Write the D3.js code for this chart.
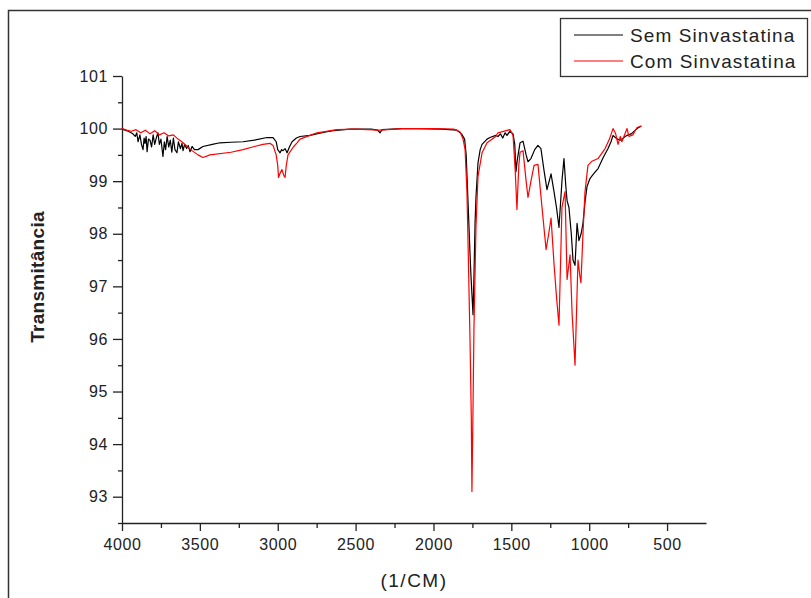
<!DOCTYPE html>
<html>
<head>
<meta charset="utf-8">
<script src="https://cdn.jsdelivr.net/npm/d3@7"></script>
<style>
  body { margin: 0; background: #fff; }
  svg { display: block; font-family: "Liberation Sans", Arial, sans-serif; }
  .axis path, .axis line { stroke: #222; stroke-width: 1.3; }
  .axis text { fill: #222; font-size: 16px; letter-spacing: 0.6px; }
</style>
</head>
<body>
<div id="chart"></div>
<script>
// series names
const seriesNames = ['Sem Sinvastatina', 'Com Sinvastatina'];
const seriesColors = ['#000000', '#ff0000'];

const xTicks = [4000, 3500, 3000, 2500, 2000, 1500, 1000, 500];
const yTicks = [93, 94, 95, 96, 97, 98, 99, 100, 101];

// [wavenumber (1/cm), transmittance]
const semSinvastatina = [
    [4000, 100.0], [3990, 99.98], [3960, 99.95], [3930, 99.9], [3915, 99.85],
    [3905, 99.92], [3897, 99.75], [3885, 99.88], [3875, 99.7], [3865, 99.6],
    [3858, 99.82], [3852, 99.72], [3845, 99.85], [3839, 99.56], [3830, 99.8],
    [3820, 99.78], [3810, 99.65], [3800, 99.88], [3790, 99.7], [3780, 99.82],
    [3769, 99.92], [3760, 99.7], [3750, 99.8], [3737, 99.47], [3728, 99.75],
    [3720, 99.6], [3710, 99.85], [3700, 99.65], [3690, 99.78], [3680, 99.55],
    [3670, 99.82], [3660, 99.6], [3647, 99.54], [3638, 99.75], [3625, 99.62],
    [3615, 99.72], [3608, 99.58], [3598, 99.7], [3585, 99.62], [3575, 99.68],
    [3563, 99.56], [3550, 99.66], [3535, 99.6], [3512, 99.6], [3480, 99.66],
    [3420, 99.7], [3371, 99.73], [3300, 99.74], [3223, 99.75], [3150, 99.78],
    [3069, 99.83], [3030, 99.83], [3010, 99.75], [3000, 99.6], [2985, 99.54],
    [2975, 99.6], [2966, 99.58], [2953, 99.62], [2940, 99.54], [2925, 99.65],
    [2908, 99.75], [2880, 99.82], [2857, 99.85], [2793, 99.87], [2700, 99.93],
    [2645, 99.96], [2536, 99.99], [2400, 99.99], [2360, 99.97], [2343, 99.92],
    [2330, 99.98], [2200, 100.0], [2106, 100.0], [1950, 99.99], [1849, 99.97],
    [1820, 99.9], [1800, 99.8], [1790, 99.5], [1778, 98.6], [1765, 97.6],
    [1759, 97.19], [1752, 96.8], [1746, 96.46], [1740, 97.19], [1733, 98.2],
    [1727, 98.7], [1714, 99.35], [1700, 99.6], [1688, 99.7], [1656, 99.8],
    [1637, 99.83], [1600, 99.87], [1586, 99.85], [1570, 99.9], [1555, 99.82],
    [1540, 99.92], [1528, 99.87], [1509, 99.95], [1489, 99.9], [1478, 99.7],
    [1470, 99.18], [1462, 99.4], [1444, 99.73], [1425, 99.76], [1405, 99.5],
    [1393, 99.37], [1374, 99.43], [1350, 99.6], [1329, 99.68], [1310, 99.62],
    [1290, 99.2], [1271, 98.84], [1245, 99.14], [1226, 98.8], [1210, 98.5],
    [1194, 98.12], [1175, 99.0], [1162, 99.43], [1150, 98.9], [1142, 98.63],
    [1130, 98.5], [1115, 98.0], [1104, 97.5], [1091, 97.4], [1078, 98.2],
    [1066, 97.87], [1052, 98.0], [1040, 98.2], [1027, 98.6], [1014, 98.9],
    [995, 99.05], [982, 99.1], [960, 99.18], [943, 99.24], [910, 99.45],
    [879, 99.62], [860, 99.75], [847, 99.87], [820, 99.8], [796, 99.78],
    [770, 99.85], [757, 99.87], [730, 99.9], [693, 100.0], [665, 100.05]
];

const comSinvastatina = [
    [4000, 100.0], [3970, 99.97], [3940, 99.95], [3910, 99.98], [3880, 99.92],
    [3850, 99.97], [3820, 99.9], [3790, 99.96], [3760, 99.88], [3730, 99.92],
    [3700, 99.86], [3670, 99.88], [3640, 99.8], [3608, 99.73], [3560, 99.6],
    [3512, 99.5], [3480, 99.45], [3435, 99.5], [3300, 99.55], [3223, 99.6],
    [3150, 99.66], [3095, 99.7], [3050, 99.72], [3030, 99.68], [3010, 99.5],
    [3000, 99.3], [2995, 99.07], [2985, 99.15], [2973, 99.22], [2960, 99.1],
    [2953, 99.07], [2945, 99.3], [2934, 99.5], [2900, 99.65], [2876, 99.73],
    [2857, 99.8], [2793, 99.87], [2748, 99.92], [2619, 99.98], [2500, 99.99],
    [2343, 99.97], [2200, 100.0], [2000, 100.0], [1870, 99.99], [1830, 99.94],
    [1810, 99.8], [1797, 99.6], [1785, 98.8], [1778, 97.83], [1765, 95.93],
    [1757, 94.5], [1753, 93.1], [1746, 94.7], [1740, 96.2], [1727, 98.14],
    [1714, 99.09], [1688, 99.54], [1656, 99.73], [1600, 99.85], [1586, 99.92],
    [1509, 99.98], [1489, 99.87], [1475, 99.2], [1464, 98.46], [1452, 99.3],
    [1444, 99.55], [1425, 99.58], [1405, 99.0], [1393, 98.69], [1374, 99.0],
    [1354, 99.3], [1329, 99.32], [1303, 98.5], [1277, 97.7], [1260, 98.0],
    [1245, 98.3], [1226, 97.43], [1210, 96.8], [1194, 96.26], [1175, 98.5],
    [1155, 98.8], [1142, 97.13], [1123, 97.6], [1110, 96.5], [1091, 95.5],
    [1072, 97.5], [1060, 97.2], [1053, 97.07], [1040, 98.0], [1027, 98.8],
    [1008, 99.3], [982, 99.38], [943, 99.43], [898, 99.62], [870, 99.8],
    [847, 100.0], [830, 99.9], [815, 99.7], [800, 99.85], [790, 99.75],
    [757, 100.0], [745, 99.85], [720, 99.88], [693, 100.02], [665, 100.05]
];

const allSeries = [semSinvastatina, comSinvastatina];

const width = 811, height = 598;
const margin = { top: 76, right: 105, bottom: 75, left: 122 };

const svg = d3.select('#chart').append('svg')
    .attr('width', width)
    .attr('height', height);

// outer frame
svg.append('rect')
    .attr('x', 8.5)
    .attr('y', 10.5)
    .attr('width', width)
    .attr('height', height)
    .attr('fill', 'none')
    .attr('stroke', '#333')
    .attr('stroke-width', 1.5);

const x = d3.scaleLinear()
    .domain([4000, 250])
    .range([margin.left, width - margin.right]);

const y = d3.scaleLinear()
    .domain([92.5, 101])
    .range([height - margin.bottom, margin.top]);

// minor ticks first
svg.append('g')
    .attr('class', 'axis')
    .attr('transform', 'translate(0,' + (height - margin.bottom) + ')')
    .call(d3.axisBottom(x).tickValues(d3.range(3750, 250, -500)).tickSize(5).tickFormat(''))
    .call(g => g.select('.domain').remove());

svg.append('g')
    .attr('class', 'axis')
    .attr('transform', 'translate(' + margin.left + ',0)')
    .call(d3.axisLeft(y).tickValues(d3.range(92.5, 101, 1)).tickSize(4).tickFormat(''))
    .call(g => g.select('.domain').remove());

const gx = svg.append('g')
    .attr('class', 'axis')
    .attr('transform', 'translate(0,' + (height - margin.bottom) + ')')
    .call(d3.axisBottom(x).tickValues(xTicks).tickFormat(d3.format('d'))
        .tickSize(8).tickSizeOuter(0).tickPadding(8));

const gy = svg.append('g')
    .attr('class', 'axis')
    .attr('transform', 'translate(' + margin.left + ',0)')
    .call(d3.axisLeft(y).tickValues(yTicks).tickSize(9).tickSizeOuter(0).tickPadding(5));

const line = d3.line()
    .x(d => x(d[0]))
    .y(d => y(d[1]));

allSeries.forEach((s, i) => {
    svg.append('path')
        .datum(s)
        .attr('fill', 'none')
        .attr('stroke', seriesColors[i])
        .attr('stroke-width', 1.2)
        .attr('stroke-linejoin', 'round')
        .attr('d', line);
});

// axis titles
svg.append('text')
    .attr('transform', 'translate(44,277) rotate(-90)')
    .attr('text-anchor', 'middle')
    .style('font-size', '19px')
    .style('font-weight', 'bold')
    .style('letter-spacing', '0.3px')
    .style('fill', '#222')
    .text('Transmitância');

svg.append('text')
    .attr('x', (margin.left + width - margin.right) / 2)
    .attr('y', 587)
    .attr('text-anchor', 'middle')
    .style('font-size', '19px')
    .style('letter-spacing', '1.5px')
    .style('fill', '#222')
    .text('(1/CM)');

// legend
const legend = svg.append('g').attr('transform', 'translate(560,18)');
legend.append('rect')
    .attr('x', 0.5)
    .attr('y', 0.5)
    .attr('width', 247)
    .attr('height', 58)
    .attr('fill', '#fff')
    .attr('stroke', '#333')
    .attr('stroke-width', 1.3);

seriesNames.forEach((name, i) => {
    const yy = 17 + i * 26;
    legend.append('line')
        .attr('x1', 14).attr('x2', 63)
        .attr('y1', yy).attr('y2', yy)
        .attr('stroke', seriesColors[i])
        .attr('stroke-width', 1.2);
    legend.append('text')
        .attr('x', 70)
        .attr('y', yy + 7)
        .style('font-size', '19px')
        .style('letter-spacing', '1.1px')
        .style('fill', '#222')
        .text(name);
});
</script>
</body>
</html>
